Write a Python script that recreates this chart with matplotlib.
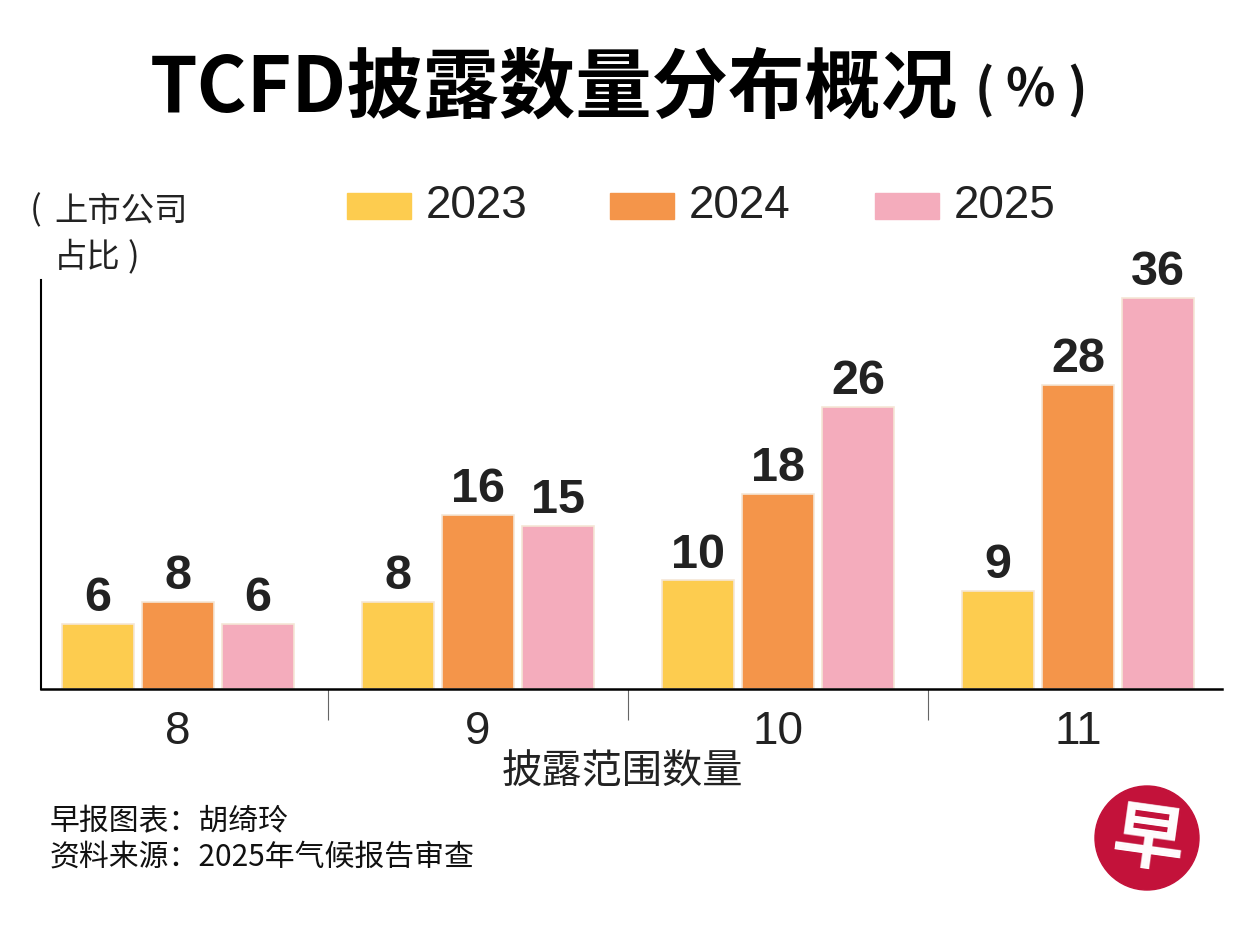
import numpy as np
import matplotlib
matplotlib.use("Agg")
import matplotlib.pyplot as plt
from matplotlib.patches import Circle

# data
groups = ["8", "9", "10", "11"]
years = ["2023", "2024", "2025"]
v2023 = [6, 8, 10, 9]
v2024 = [8, 16, 18, 28]
v2025 = [6, 15, 26, 36]
colors = ["#FDCC4F", "#F4954A", "#F4ACBC"]

CJK = "Noto Sans CJK SC"
LAT = "Liberation Sans"

W, H = 1251, 934
fig = plt.figure(figsize=(W / 100, H / 100), dpi=100)
fig.patch.set_facecolor("white")


def fx(px):
    return px / W


def fy(py):
    return (H - py) / H


# axes placed in pixels
x0, x1, ybase, ytop = 41, 1222, 689, 280
ax = fig.add_axes([fx(x0), fy(ybase), (x1 - x0) / W, (ybase - ytop) / H])

x = np.arange(len(groups))
step = 80 / 300
width = 72 / 300
for i, (vals, c) in enumerate(zip([v2023, v2024, v2025], colors)):
    bars = ax.bar(x + (i - 1) * step, vals, width, color=c,
                  edgecolor="#F5E6D6", linewidth=1.2, label=years[i])
    for b, v in zip(bars, vals):
        ax.annotate(str(v), (b.get_x() + b.get_width() / 2, v),
                    xytext=(0, 2), textcoords="offset points",
                    ha="center", va="bottom", fontsize=35,
                    fontweight="bold", family=LAT, color="#222222")

ax.set_xlim(-137 / 300, 3 + 144 / 300)
ax.set_ylim(0, 37.66)
ax.spines["top"].set_visible(False)
ax.spines["right"].set_visible(False)
ax.spines["left"].set_linewidth(1.5)
ax.spines["bottom"].set_linewidth(1.8)
ax.set_yticks([])
ax.set_xticks(x)
ax.set_xticklabels(groups, fontsize=33, family=LAT, color="#222222")
ax.tick_params(axis="x", length=0, pad=15)
# separators between groups
ax.set_xticks(x[:-1] + 0.5, minor=True)
ax.tick_params(axis="x", which="minor", length=22, width=0.8, color="#666666")

# legend (manual layout)
leg_x = [347, 610, 875]
for lx, c, yr in zip(leg_x, colors, years):
    fig.patches.append(plt.Rectangle((fx(lx), fy(219)), 64 / W, 26 / H,
                                     transform=fig.transFigure, color=c))
    fig.text(fx(lx + 79), fy(206), yr, fontsize=33, family=LAT,
             va="center", ha="left", color="#222222")

# title
fig.text(fx(150), fy(112), "TCFD披露数量分布概况", fontsize=55,
         family=CJK, fontweight="black", ha="left", va="baseline", color="black")
for px, s in [(984, "("), (1030, "%"), (1077, ")")]:
    fig.text(fx(px), fy(91), s, fontsize=37, family=CJK, fontweight="bold",
             ha="center", va="center", color="#111111")

# y label
fig.text(fx(36), fy(211), "(", fontsize=25, family=CJK,
         ha="center", va="center", color="#222222")
fig.text(fx(54), fy(211), "上市公司", fontsize=24, family=CJK,
         ha="left", va="center", color="#222222")
fig.text(fx(54), fy(258), "占比", fontsize=24, family=CJK,
         ha="left", va="center", color="#222222")
fig.text(fx(133), fy(258), ")", fontsize=25, family=CJK,
         ha="center", va="center", color="#222222")

# x label
fig.text(fx(622), fy(771), "披露范围数量", fontsize=29, family=CJK,
         ha="center", va="center", color="#222222")

# footer
fig.text(fx(50), fy(822), "早报图表：胡绮玲", fontsize=21.5, family=CJK,
         ha="left", va="center", color="#111111")
fig.text(fx(50), fy(857), "资料来源：2025年气候报告审查", fontsize=21.5,
         family=CJK, ha="left", va="center", color="#111111")

# logo
fig.patches.append(Circle((1147 / 100, (H - 838) / 100), 0.52,
                          transform=fig.dpi_scale_trans, color="#C3123A"))
fig.text(fx(1148), fy(842), "早", fontsize=52, family=CJK,
         fontweight="bold", ha="center", va="center", color="white", rotation=-8)

fig.savefig("out.png", dpi=100)
